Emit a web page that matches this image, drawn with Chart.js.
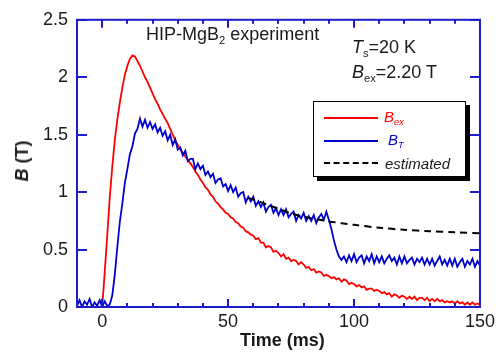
<!DOCTYPE html>
<html>
<head>
<meta charset="utf-8">
<script src="https://cdn.jsdelivr.net/npm/chart.js@4"></script>
<style>
  html, body { margin: 0; padding: 0; background: #fff; }
  #wrap { position: relative; width: 499px; height: 354px; font-family: 'Liberation Sans', Arial, sans-serif; color: #1a1a1a; }
  #wrap canvas { position: absolute; left: 0; top: 0; }
  .lbl { position: absolute; line-height: 1; white-space: nowrap; }
  .lbl sub { font-size: 0.62em; vertical-align: -0.35em; line-height: 0; }
  .key { position: absolute; height: 0; width: 54px; }
</style>
</head>
<body>
<div id="wrap">
  <canvas id="chart" width="499" height="354"></canvas>

  <div class="lbl" style="left:146px; top:25px; font-size:18px;">HIP-MgB<sub>2</sub> experiment</div>
  <div class="lbl" style="left:352px; top:38px; font-size:18px;"><i>T</i><sub>s</sub>=20 K</div>
  <div class="lbl" style="left:352px; top:63px; font-size:18px;"><i>B</i><sub>ex</sub>=2.20 T</div>

  <!-- legend box -->
  <div style="position:absolute; left:313px; top:101px; width:151px; height:74px; border:1.5px solid #000; background:#fff; box-shadow:4px 4px 0 #000;"></div>
  <div class="key" style="left:324px; top:117px; border-top:2px solid #ff0000;"></div>
  <div class="lbl" style="left:384px; top:109px; font-size:15px; color:#ff0000;"><i>B</i><sub><i>ex</i></sub></div>
  <div class="key" style="left:324px; top:140px; border-top:2px solid #0000cc;"></div>
  <div class="lbl" style="left:388px; top:132px; font-size:15px; color:#0000cc;"><i>B</i><sub><i>T</i></sub></div>
  <div class="key" style="left:324px; top:162px; border-top:2px dashed #000;"></div>
  <div class="lbl" style="left:385px; top:156px; font-size:15px;"><i>estimated</i></div>

  <!-- axis titles -->
  <div class="lbl" style="left:240px; top:331px; font-size:18px; font-weight:bold;">Time (ms)</div>
  <div class="lbl" style="left:22px; top:161px; font-size:18px; font-weight:bold; transform:translate(-50%,-50%) rotate(-90deg);"><i>B</i> (T)</div>
</div>

<script>
/* ── data ── */
// samples every DT ms starting at T0
const T0 = -10;
const DT = 1;

const B_EX = [
  0, 0, 0, 0, 0, 0, 0, 0, 0, 0, 0,
  0.30, 0.62, 0.95, 1.22, 1.45, 1.63, 1.78, 1.91, 2.02, 2.10,
  2.16, 2.19, 2.18, 2.14, 2.10, 2.05, 2.00, 1.96, 1.91,
  1.86, 1.81, 1.77, 1.72, 1.68, 1.64, 1.60, 1.55, 1.50, 1.45,
  1.41, 1.37, 1.34, 1.31, 1.28, 1.25, 1.22, 1.18, 1.15, 1.11,
  1.08, 1.04, 1.02, 0.98, 0.96, 0.92, 0.90, 0.87, 0.85, 0.82,
  0.81, 0.78, 0.77, 0.74, 0.73, 0.70, 0.69, 0.66, 0.65, 0.63,
  0.62, 0.59, 0.60, 0.56, 0.56, 0.52, 0.53, 0.52, 0.48, 0.49,
  0.47, 0.44, 0.46, 0.42, 0.43, 0.40, 0.41, 0.40, 0.37, 0.39,
  0.37, 0.34, 0.35, 0.32, 0.33, 0.30, 0.31, 0.30, 0.27, 0.28,
  0.27, 0.25, 0.26, 0.24, 0.25, 0.22, 0.24, 0.23, 0.20, 0.21,
  0.20, 0.18, 0.19, 0.17, 0.18, 0.15, 0.16, 0.16, 0.14, 0.15,
  0.14, 0.12, 0.13, 0.11, 0.12, 0.09, 0.11, 0.10, 0.08, 0.10,
  0.09, 0.07, 0.09, 0.07, 0.09, 0.06, 0.08, 0.08, 0.06, 0.08,
  0.05, 0.07, 0.05, 0.07, 0.05, 0.06, 0.04, 0.05, 0.04, 0.05,
  0.03, 0.05, 0.03, 0.04, 0.02, 0.04, 0.02, 0.04, 0.02, 0.03,
  0.02
];

const B_T = [
  0.01, 0.06, 0.00, 0.05, 0.02, 0.07, 0.00, 0.04, 0.01, 0.06,
  0.00, 0.05, 0.01,
  0.02, 0.10, 0.28, 0.52, 0.74, 0.90, 1.08, 1.20, 1.33, 1.40,
  1.51, 1.55, 1.64, 1.57, 1.63, 1.56, 1.61, 1.55, 1.59, 1.52,
  1.56, 1.49, 1.53, 1.45, 1.50, 1.41, 1.46, 1.37,
  1.39, 1.32, 1.36, 1.27, 1.29, 1.29, 1.20, 1.25, 1.20, 1.23,
  1.15, 1.18, 1.13, 1.16, 1.08, 1.11, 1.12, 1.05, 1.07, 1.01,
  1.06, 1.00, 1.04, 0.96, 0.99, 1.00, 0.91, 0.96, 0.92, 0.96,
  0.88, 0.92, 0.87, 0.91, 0.83, 0.87, 0.89, 0.82, 0.86, 0.80,
  0.85, 0.80, 0.85, 0.78, 0.81, 0.83, 0.75, 0.80, 0.77, 0.82,
  0.75, 0.79, 0.75, 0.80, 0.73, 0.78, 0.81, 0.76, 0.83, 0.76,
  0.68, 0.58, 0.50, 0.44, 0.41,
  0.44, 0.39, 0.45, 0.40, 0.46, 0.39, 0.43, 0.45, 0.38, 0.44,
  0.40, 0.46, 0.38, 0.44, 0.39, 0.44, 0.38, 0.42, 0.45, 0.40,
  0.43, 0.37, 0.44, 0.38, 0.44, 0.38, 0.41, 0.43, 0.37, 0.42,
  0.39, 0.43, 0.37, 0.42, 0.37, 0.42, 0.36, 0.40, 0.44, 0.37,
  0.41, 0.36, 0.42, 0.36, 0.42, 0.35, 0.39, 0.42, 0.35, 0.40,
  0.37, 0.42, 0.35, 0.40, 0.36
];

const EST_T = [58, 60, 65, 70, 75, 80, 85, 90, 95, 100, 110, 120, 130, 140, 150];
const EST_B = [0.95, 0.935, 0.895, 0.855, 0.815, 0.785, 0.765, 0.745, 0.73, 0.715, 0.69, 0.672, 0.66, 0.65, 0.642];

const X_TICKS = [0, 50, 100, 150];
const Y_TICKS = [0, 0.5, 1, 1.5, 2, 2.5];

const RED = '#ff0000';
const BLUE = '#0000cc';
const AXIS_BLUE = '#1c1ccc';
const FONT = "'Liberation Sans', Arial, sans-serif";

function toPoints(values) {
  return values.map((v, i) => ({ x: T0 + i * DT, y: v }));
}

/* ── frame with inward ticks on all four sides ── */
const framePlugin = {
  id: 'frame',
  afterDatasetsDraw(chart) {
    const { ctx, chartArea: a, scales: { x, y } } = chart;
    ctx.save();
    ctx.strokeStyle = AXIS_BLUE;
    ctx.lineWidth = 2;
    ctx.strokeRect(a.left, a.top, a.right - a.left, a.bottom - a.top);
    ctx.beginPath();
    for (let v = 0; v < 150; v += 10) {
      const px = Math.round(x.getPixelForValue(v));
      const len = X_TICKS.includes(v) ? 8 : 4;
      ctx.moveTo(px, a.bottom); ctx.lineTo(px, a.bottom - len);
      ctx.moveTo(px, a.top); ctx.lineTo(px, a.top + len);
    }
    Y_TICKS.forEach(v => {
      const py = Math.round(y.getPixelForValue(v));
      ctx.moveTo(a.left, py); ctx.lineTo(a.left + 10, py);
      ctx.moveTo(a.right, py); ctx.lineTo(a.right - 10, py);
    });
    ctx.stroke();
    ctx.restore();
  }
};

new Chart(document.getElementById('chart'), {
  type: 'line',
  data: {
    datasets: [
      {
        label: 'estimated',
        data: EST_T.map((t, i) => ({ x: t, y: EST_B[i] })),
        borderColor: '#000',
        borderWidth: 2,
        borderDash: [7, 5],
        tension: 0.3,
        pointRadius: 0,
        order: 0
      },
      {
        label: 'B_T',
        data: toPoints(B_T),
        borderColor: BLUE,
        borderWidth: 1.8,
        pointRadius: 0,
        order: 1
      },
      {
        label: 'B_ex',
        data: toPoints(B_EX),
        borderColor: RED,
        borderWidth: 1.8,
        pointRadius: 0,
        order: 2
      }
    ]
  },
  options: {
    responsive: false,
    animation: false,
    events: [],
    layout: { padding: { top: 16, right: 17, left: 0, bottom: 0 } },
    scales: {
      x: {
        type: 'linear',
        min: -10,
        max: 150,
        afterBuildTicks: s => { s.ticks = X_TICKS.map(v => ({ value: v })); },
        afterFit: s => { s.height = 47; },
        grid: { display: false, drawTicks: false },
        border: { display: false },
        ticks: { padding: 4, color: '#1a1a1a', font: { family: FONT, size: 18 }, maxRotation: 0, callback: v => String(v) }
      },
      y: {
        min: 0,
        max: 2.5,
        afterBuildTicks: s => { s.ticks = Y_TICKS.map(v => ({ value: v })); },
        afterFit: s => { s.width = 77; },
        grid: { display: false, drawTicks: false },
        border: { display: false },
        ticks: { padding: 9, color: '#1a1a1a', font: { family: FONT, size: 18 }, callback: v => String(v) }
      }
    },
    plugins: {
      legend: { display: false },
      tooltip: { enabled: false }
    }
  },
  plugins: [framePlugin]
});
</script>
</body>
</html>
